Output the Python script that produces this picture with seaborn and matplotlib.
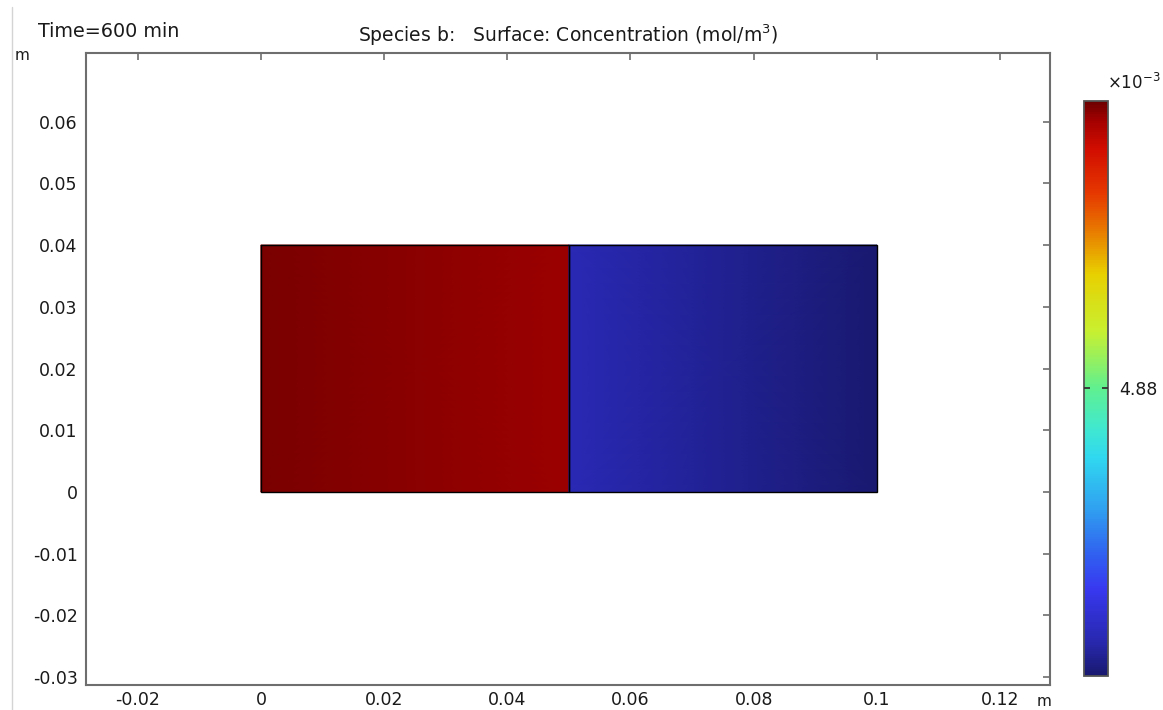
import numpy as np
import matplotlib
matplotlib.use("Agg")
import matplotlib.pyplot as plt
import seaborn as sns
from matplotlib.colors import LinearSegmentedColormap, Normalize
from matplotlib.patches import Rectangle
from matplotlib.lines import Line2D

# DATA: two domains, concentration (mol/m^3) at the domain corner nodes (left edge, right edge)
domain_x = [[0.0, 0.05], [0.05, 0.1]]
domain_y = [0.0, 0.04]
conc_nodes = [[5.057e-3, 5.050e-3], [4.724e-3, 4.701e-3]]

c_min = 4.70e-3
c_max = 5.06e-3
cbar_ticks = [4.88e-3]
cbar_ticklabels = ["4.88"]

x_ticks = [-0.02, 0, 0.02, 0.04, 0.06, 0.08, 0.1, 0.12]
x_ticklabels = ["-0.02", "0", "0.02", "0.04", "0.06", "0.08", "0.1", "0.12"]
y_ticks = [-0.03, -0.02, -0.01, 0, 0.01, 0.02, 0.03, 0.04, 0.05, 0.06]
y_ticklabels = ["-0.03", "-0.02", "-0.01", "0", "0.01", "0.02", "0.03", "0.04", "0.05", "0.06"]

# CONSTANT: colors
TEXT_COLOR = '#1a1a1a'
AXIS_COLOR = '#6e6e6e'

# rainbow colormap (COMSOL like)
rainbow = LinearSegmentedColormap.from_list("rainbow_c", [
    (0.00, '#191970'), (0.06, '#2828b0'), (0.15, '#3838f0'), (0.21, '#3060f0'),
    (0.29, '#30a0f0'), (0.38, '#30d8f0'), (0.43, '#40e8d0'), (0.50, '#60f090'),
    (0.60, '#c8f030'), (0.70, '#e8d000'), (0.77, '#e88000'), (0.84, '#e63800'),
    (0.92, '#d00c00'), (0.97, '#a00000'), (1.00, '#6c0000')])

sns.set_theme(style="white")
plt.rcParams['font.family'] = ['DejaVu Sans']
plt.rcParams['axes.unicode_minus'] = False

fig = plt.figure(figsize=(11.63, 7.10), dpi=100)
ax = fig.add_axes([0.0739, 0.0352, 0.8289, 0.8901])
cax = fig.add_axes([0.9321, 0.0479, 0.0206, 0.8099])

norm = Normalize(vmin=c_min, vmax=c_max)

# GRAPH: surface plot
for xs, cs in zip(domain_x, conc_nodes):
    X, Y = np.meshgrid(xs, domain_y)
    C = np.array([cs, cs])
    ax.pcolormesh(X, Y, C, shading='gouraud', cmap=rainbow, norm=norm)
    ax.add_patch(Rectangle((xs[0], domain_y[0]), xs[1] - xs[0], domain_y[1] - domain_y[0],
                           fill=False, edgecolor='black', linewidth=1.0, zorder=3))

ax.set_xlim(-0.0284, 0.1281)
ax.set_ylim(-0.03126, 0.0711)
ax.set_xticks(x_ticks)
ax.set_xticklabels(x_ticklabels)
ax.set_yticks(y_ticks)
ax.set_yticklabels(y_ticklabels)
ax.tick_params(direction='in', length=5, width=1.2, color=AXIS_COLOR, labelcolor=TEXT_COLOR,
               labelsize=12.5, top=True, right=True, pad=6)
ax.tick_params(axis='x', pad=4)
for spine in ax.spines.values():
    spine.set_edgecolor(AXIS_COLOR)
    spine.set_linewidth(1.5)

ax.set_title("Species b:   Surface: Concentration (mol/m$^3$)", fontsize=13.5, color=TEXT_COLOR, pad=8)

# unit labels and time stamp
fig.text(0.013, 0.915, "m", fontsize=11, color=TEXT_COLOR)
fig.text(0.891, 0.002, "m", fontsize=11, color=TEXT_COLOR, va='bottom')
fig.text(0.033, 0.948, "Time=600 min", fontsize=13.8, color=TEXT_COLOR)
fig.add_artist(Line2D([0.0105, 0.0105], [0.0, 0.99], color='#d4d4d4', linewidth=1.0))

# GRAPH: colorbar
sm = plt.cm.ScalarMappable(cmap=rainbow, norm=norm)
cb = fig.colorbar(sm, cax=cax)
cb.set_ticks(cbar_ticks)
cb.set_ticklabels(cbar_ticklabels)
cax.set_axisbelow(False)
cax.tick_params(direction='in', length=4, width=1.3, color='#333333', labelsize=12.5,
                labelcolor=TEXT_COLOR, left=True, right=True, pad=8)
cb.outline.set_edgecolor('#555555')
cb.outline.set_linewidth(1.3)
fig.text(0.952, 0.875, r"$\times$10$^{-3}$", fontsize=12, color=TEXT_COLOR)

plt.savefig("out.png", dpi=100)
